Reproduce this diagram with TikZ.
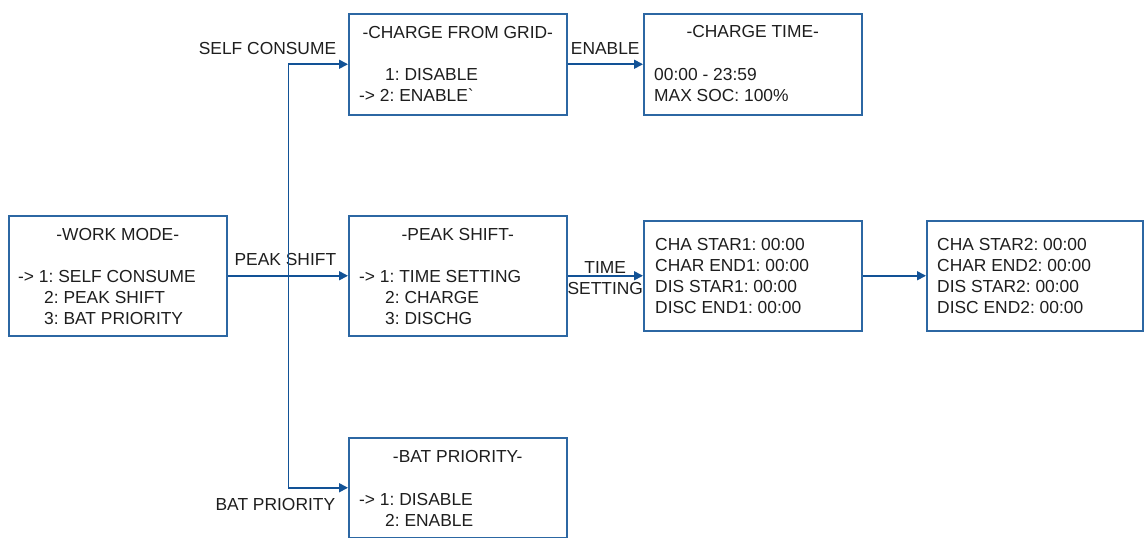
\documentclass[tikz,border=0pt]{standalone}
\usepackage{fontspec}
\setmainfont{Liberation Sans}
\usetikzlibrary{arrows.meta}
\definecolor{boxblue}{RGB}{44,103,163}
\definecolor{lineblue}{RGB}{18,82,150}
\definecolor{textgray}{RGB}{30,30,30}
\frenchspacing

\begin{document}
\begin{tikzpicture}[x=1pt,y=-1pt,
	font=\fontsize{17.4}{21}\selectfont, text=textgray,
	box/.style={draw=boxblue, line width=1.5pt, anchor=north west, inner sep=0pt, minimum width=218pt},
	head/.style={anchor=base, inner sep=0pt},
	list/.style={anchor=base west, align=left, inner sep=0pt},
	link/.style={draw=lineblue, line width=1.7pt, -{Triangle[length=9pt,width=9pt]}}]
	\useasboundingbox (0,0) rectangle (1144,538);
	\def\ind{\hspace*{26pt}}
	% menu boxes (list nodes sit on the baseline of their last line)
	\node[box, minimum height=120pt] (work) at (8,215) {};
	\node[head] (workhead) at ([yshift=-25pt]work.north) {-WORK MODE-};
	\node[list] (worklist) at ([shift={(10,109)}]work.north west)
	{-> 1: SELF CONSUME\\ \ind 2: PEAK SHIFT\\ \ind 3: BAT PRIORITY};
	\node[box, minimum height=101pt] (grid) at (348,13) {};
	\node[head] (gridhead) at ([yshift=-25pt]grid.north) {-CHARGE FROM GRID-};
	\node[list] (gridlist) at ([shift={(11,88)}]grid.north west)
	{\ind 1: DISABLE\\ -> 2: ENABLE\textasciigrave};
	\node[box, minimum height=101pt] (ctime) at (643,13) {};
	\node[head] (ctimehead) at ([yshift=-24pt]ctime.north) {-CHARGE TIME-};
	\node[list] (ctimelist) at ([shift={(11,88)}]ctime.north west)
	{00:00 - 23:59\\ MAX SOC: 100\%};
	\node[box, minimum height=120pt] (peak) at (348,215) {};
	\node[head] (peakhead) at ([yshift=-25pt]peak.north) {-PEAK SHIFT-};
	\node[list] (peaklist) at ([shift={(11,109)}]peak.north west)
	{-> 1: TIME SETTING\\ \ind 2: CHARGE\\ \ind 3: DISCHG};
	\node[box, minimum height=100pt] (bat) at (348,437) {};
	\node[head] (bathead) at ([yshift=-25pt]bat.north) {-BAT PRIORITY-};
	\node[list] (batlist) at ([shift={(11,89)}]bat.north west)
	{-> 1: DISABLE\\ \ind 2: ENABLE};
	% time boxes
	\node[box, minimum height=110pt] (tone) at (643,220) {};
	\node[list] (tonelist) at ([shift={(12,93)}]tone.north west)
	{CHA STAR1: 00:00\\ CHAR END1: 00:00\\ DIS STAR1: 00:00\\ DISC END1: 00:00};
	\node[box, minimum height=110pt, minimum width=216pt] (ttwo) at (926,220) {};
	\node[list] (ttwolist) at ([shift={(11,93)}]ttwo.north west)
	{CHA STAR2: 00:00\\ CHAR END2: 00:00\\ DIS STAR2: 00:00\\ DISC END2: 00:00};
	% links
	\coordinate (split) at ([xshift=61pt]work.east);
	\draw[link] (work.east) -- (peak.west)
	node[anchor=base east, inner sep=0pt, xshift=-11pt, yshift=10pt] {PEAK SHIFT};
	\draw[link] (split) |- (grid.west)
	node[anchor=base east, inner sep=0pt, xshift=-11pt, yshift=10pt] {SELF CONSUME};
	\draw[link] (split) |- (bat.west)
	node[anchor=base east, inner sep=0pt, xshift=-12pt, yshift=-22.5pt] {BAT PRIORITY};
	\draw[link] (grid.east) -- (ctime.west)
	node[midway, anchor=base, inner sep=0pt, yshift=10pt] {ENABLE};
	\draw[link] (peak.east) -- (tone.west)
	node[midway, align=center, inner sep=0pt, yshift=-2.5pt] {TIME\\SETTING};
	\draw[link] (tone.east) -- (ttwo.west);
\end{tikzpicture}
\end{document}
